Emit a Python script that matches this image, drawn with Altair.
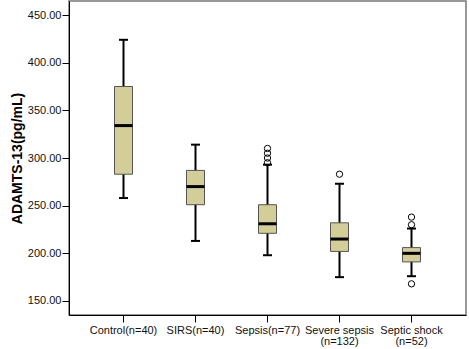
import altair as alt
import pandas as pd

categories = ["Control(n=40)", "SIRS(n=40)", "Sepsis(n=77)",
              "Severe sepsis\n(n=132)", "Septic shock\n(n=52)"]
whisker_low = [258, 213, 198, 175, 176]
q1 = [283, 251, 221, 202, 191]
median = [334, 270, 231, 215, 200]
q3 = [375, 287, 251, 232, 206]
whisker_high = [424, 314, 293, 273, 226]

outlier_group = ["Sepsis(n=77)", "Sepsis(n=77)", "Sepsis(n=77)", "Sepsis(n=77)",
                 "Severe sepsis\n(n=132)",
                 "Septic shock\n(n=52)", "Septic shock\n(n=52)", "Septic shock\n(n=52)"]
outlier_value = [310, 305, 300, 295, 283, 238, 230, 168]

y_ticks = [150, 200, 250, 300, 350, 400, 450]

df = pd.DataFrame({"group": categories, "lo": whisker_low, "q1": q1,
                   "med": median, "q3": q3, "hi": whisker_high})
out = pd.DataFrame({"group": outlier_group, "v": outlier_value})

FONT = "Liberation Sans"

x = alt.X("group:N", sort=categories, title=None,
          scale=alt.Scale(type="band", paddingInner=0, paddingOuter=0.257, domain=categories),
          axis=alt.Axis(labelAngle=0, labelFont=FONT, labelFontSize=11, labelColor="#111",
                        labelExpr="split(datum.label, '\\n')", labelLineHeight=11,
                        tickSize=7, tickColor="#000", domainColor="#000", labelPadding=2,
                        labelBaseline="top"))
yscale = alt.Scale(domain=[135.3, 464.7], nice=False, zero=False)
yaxis = alt.Axis(values=y_ticks, format=".2f", grid=False, labelFont=FONT, labelFontSize=11,
                 labelColor="#111", tickSize=7, tickColor="#000", domainColor="#000",
                 labelPadding=1, title="ADAMTS-13(pg/mL)", titleFont=FONT, titleFontSize=14,
                 titleFontWeight="bold", titleColor="#000", titleX=-48, titleY=157,
                 titleBaseline="alphabetic", titleAlign="center")

base = alt.Chart(df)

whisk = base.mark_rule(color="#000", strokeWidth=2).encode(
    x=x, y=alt.Y("lo:Q", scale=yscale, axis=yaxis), y2="hi:Q")
box = base.mark_bar(size=18, color="#d3ce97", stroke="#555", strokeWidth=1, opacity=1).encode(
    x=x, y=alt.Y("q1:Q", scale=yscale), y2="q3:Q")
med = base.mark_tick(size=18, thickness=3, color="#000", opacity=1).encode(
    x=x, y=alt.Y("med:Q", scale=yscale))
cap_lo = base.mark_tick(size=9, thickness=2, color="#000", opacity=1).encode(
    x=x, y=alt.Y("lo:Q", scale=yscale))
cap_hi = base.mark_tick(size=9, thickness=2, color="#000", opacity=1).encode(
    x=x, y=alt.Y("hi:Q", scale=yscale))
pts = alt.Chart(out).mark_point(shape="circle", filled=False, size=40, color="#000",
                                strokeWidth=1, opacity=1).encode(
    x=x, y=alt.Y("v:Q", scale=yscale))

chart = alt.layer(whisk, box, med, cap_lo, cap_hi, pts).properties(
    width=397, height=314,
    autosize=alt.AutoSizeParams(type="none"),
    padding={"left": 69, "top": 1, "right": 3, "bottom": 34},
    background="white",
).configure_view(stroke="#777", strokeWidth=1.5)

chart.save("out.html", embed_options={"renderer": "svg", "actions": False})
